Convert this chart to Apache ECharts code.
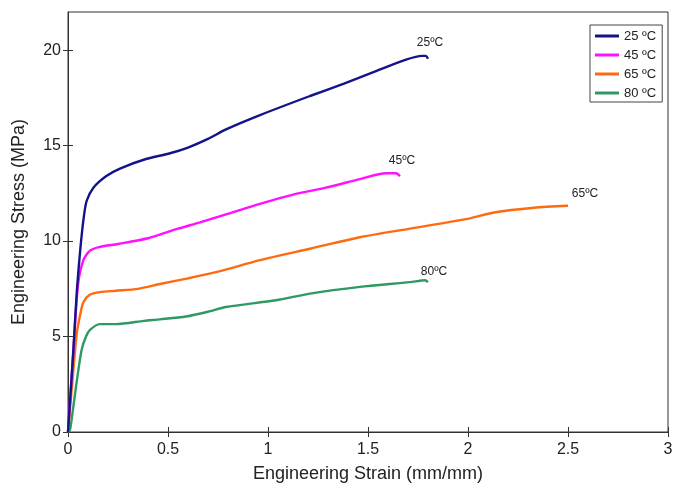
<!DOCTYPE html>
<html><head><meta charset="utf-8">
<script src="https://cdn.jsdelivr.net/npm/echarts@6/dist/echarts.min.js"></script>
<style>html,body{margin:0;padding:0;background:#fff}#c{width:677px;height:485px}</style>
</head><body><div id="c"></div>
<script>
const seriesNames = ['25 ºC', '45 ºC', '65 ºC', '80 ºC'];
const endLabels = ['25ºC', '45ºC', '65ºC', '80ºC'];
const colors = ['#14148a', '#ff10ff', '#ff6a10', '#2e9a62'];

const strain25 = [0, 0.027, 0.043, 0.06, 0.077, 0.093, 0.127, 0.19, 0.26, 0.39, 0.51, 0.6, 0.7, 0.79, 0.96, 1.21, 1.38, 1.54, 1.69, 1.77, 1.79, 1.80];
const stress25 = [0, 4.3, 7.2, 9.4, 11.1, 12.1, 12.8, 13.4, 13.8, 14.3, 14.6, 14.9, 15.35, 15.85, 16.6, 17.6, 18.25, 18.9, 19.5, 19.7, 19.7, 19.55];

const strain45 = [0, 0.027, 0.05, 0.077, 0.11, 0.16, 0.25, 0.4, 0.55, 0.66, 0.79, 0.96, 1.13, 1.29, 1.46, 1.59, 1.64, 1.66];
const stress45 = [0, 4.3, 7.7, 9.0, 9.5, 9.7, 9.85, 10.15, 10.65, 10.98, 11.4, 11.95, 12.45, 12.8, 13.25, 13.55, 13.55, 13.4];

const strain65 = [0, 0.02, 0.043, 0.06, 0.077, 0.11, 0.16, 0.24, 0.35, 0.46, 0.6, 0.75, 0.96, 1.21, 1.46, 1.71, 1.99, 2.13, 2.33, 2.50];
const stress65 = [0, 2.4, 5.1, 6.1, 6.8, 7.2, 7.33, 7.4, 7.5, 7.75, 8.05, 8.4, 9.0, 9.6, 10.2, 10.65, 11.15, 11.5, 11.75, 11.85];

const strain80 = [0, 0.01, 0.025, 0.043, 0.068, 0.09, 0.11, 0.16, 0.24, 0.38, 0.46, 0.59, 0.7, 0.79, 1.04, 1.21, 1.46, 1.71, 1.785, 1.80];
const stress80 = [0, 0.1, 1.2, 2.6, 4.3, 5.0, 5.35, 5.65, 5.65, 5.82, 5.9, 6.05, 6.3, 6.55, 6.9, 7.25, 7.6, 7.85, 7.95, 7.85];

const labelPos = [[1.81, 20.4], [1.67, 14.2], [2.585, 12.5], [1.83, 8.4]];

const xTicks = [0, 0.5, 1, 1.5, 2, 2.5, 3];
const yTicks = [0, 5, 10, 15, 20];

const strains = [strain25, strain45, strain65, strain80];
const stresses = [stress25, stress45, stress65, stress80];

const chart = echarts.init(document.getElementById('c'));
const font = 'Liberation Sans, Arial, sans-serif';
const series = seriesNames.map((n, i) => ({
  name: n, type: 'line', xAxisIndex: 0, yAxisIndex: 0,
  symbol: 'none', smooth: 0.25,
  lineStyle: { color: colors[i], width: 2.4 },
  itemStyle: { color: colors[i] },
  data: strains[i].map((x, j) => [x, stresses[i][j]]),
  markPoint: {
    symbol: 'circle', symbolSize: 0, silent: true,
    label: { show: true, formatter: endLabels[i], color: '#222', fontSize: 12, fontFamily: font },
    data: [{ coord: labelPos[i] }]
  },
  z: 5 - i
}));
chart.setOption({
  animation: false,
  backgroundColor: '#fff',
  grid: { left: 68, right: 9, top: 12, bottom: 53, show: true, borderColor: '#333', borderWidth: 1,
    outerBoundsMode: 'none', containLabel: false },
  legend: {
    orient: 'vertical', left: 590, top: 25, data: seriesNames,
    backgroundColor: '#fff', borderColor: '#444', borderWidth: 1, padding: [4, 6, 2, 5],
    icon: 'rect', itemWidth: 24, itemHeight: 3, itemGap: 5,
    textStyle: { fontSize: 13, color: '#222', fontFamily: font, lineHeight: 14 }
  },
  xAxis: [{
    type: 'value', min: 0, max: 3, interval: 0.5, position: 'bottom',
    name: 'Engineering Strain (mm/mm)', nameLocation: 'middle', nameGap: 33,
    nameTextStyle: { fontSize: 18, color: '#222', fontFamily: font },
    axisLine: { show: true, onZero: false, lineStyle: { color: '#333', width: 1 } },
    axisTick: { show: true, length: 5, customValues: xTicks, lineStyle: { color: '#333' } },
    axisLabel: { fontSize: 16, color: '#222', fontFamily: font, margin: 10, customValues: xTicks,
      formatter: v => xTicks.includes(v) ? String(v) : '' },
    splitLine: { show: false }
  }, {
    type: 'value', min: 0, max: 3, interval: 0.5, position: 'bottom', offset: 0,
    axisLine: { show: false },
    axisTick: { show: true, inside: true, length: 5, customValues: xTicks, lineStyle: { color: '#333' } },
    axisLabel: { show: false }, splitLine: { show: false }
  }],
  yAxis: [{
    type: 'value', min: 0, max: 22, interval: 5, position: 'left',
    name: 'Engineering Stress (MPa)', nameLocation: 'middle', nameGap: 40, nameRotate: 90,
    nameTextStyle: { fontSize: 18, color: '#222', fontFamily: font },
    axisLine: { show: true, onZero: false, lineStyle: { color: '#333', width: 1 } },
    axisTick: { show: true, length: 5, customValues: yTicks, lineStyle: { color: '#333' } },
    axisLabel: { fontSize: 16, color: '#222', fontFamily: font, margin: 7, customValues: yTicks,
      formatter: v => yTicks.includes(v) ? String(v) : '' },
    splitLine: { show: false }
  }, {
    type: 'value', min: 0, max: 22, interval: 5, position: 'left', offset: 0,
    axisLine: { show: false },
    axisTick: { show: true, inside: true, length: 5, customValues: yTicks, lineStyle: { color: '#333' } },
    axisLabel: { show: false }, splitLine: { show: false }
  }],
  series: series
});
</script></body></html>
